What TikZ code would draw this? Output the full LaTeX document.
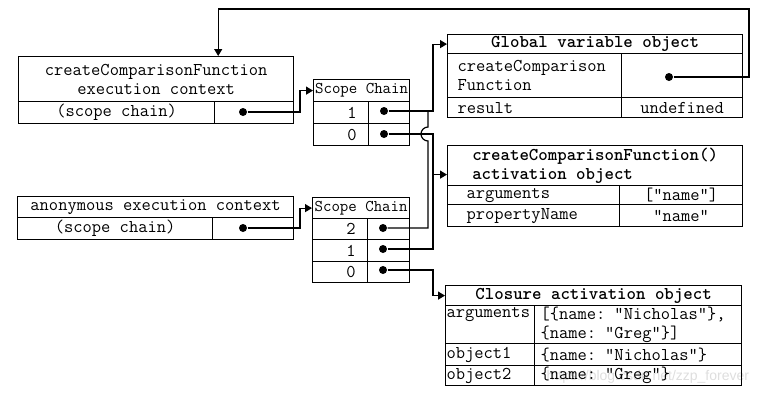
\documentclass[tikz,border=0pt]{standalone}
\usepackage{fontspec}
\newfontfamily\markfont{Liberation Sans}
\usetikzlibrary{arrows.meta}

\tikzset{
    cell/.style={draw, anchor=north west, inner sep=0pt, align=center,
        font=\ttfamily\fontsize{18}{19}\selectfont},
    head/.style={cell, font=\ttfamily\bfseries\fontsize{18}{19}\selectfont},
    chainhead/.style={cell, font=\ttfamily\fontsize{16.4}{17}\selectfont},
    num/.style={cell, minimum width=55pt, text width=31pt, inner xsep=12pt, align=right},
    dot/.style={circle, fill, inner sep=0pt, minimum size=8pt},
    ptr/.style={-{Triangle[length=7pt,width=8pt]}}
}

\begin{document}
\begin{tikzpicture}[x=1pt, y=-1pt, line width=1.2pt]

    \useasboundingbox (0,0) rectangle (760,400);

    % watermark
    \node[font=\markfont\fontsize{14}{14}\selectfont, text=black!13, anchor=east] (mark) at (753,377) {https://blog.csdn.net/zzp\_forever};

    % createComparisonFunction execution context
    \node[cell, minimum width=275pt, minimum height=45pt] (Ahead) at (18,56) {createComparisonFunction\\execution context};
    \node[cell, minimum width=196pt, minimum height=22pt] (Arow) at (18,101) {(scope chain)};
    \node[cell, minimum width=79pt, minimum height=22pt] (Aptr) at (214,101) {};
    \node[dot] (Adot) at (243,112) {};

    % first scope chain
    \node[chainhead, minimum width=96pt, minimum height=22pt] (sc1head) at (313,79) {Scope Chain};
    \node[num, minimum height=22pt] (sc1n1) at (313,101) {1};
    \node[cell, minimum width=41pt, minimum height=22pt] (sc1p1) at (368,101) {};
    \node[dot] (d11) at (384,111) {};
    \node[num, minimum height=22pt] (sc1n0) at (313,123) {0};
    \node[cell, minimum width=41pt, minimum height=22pt] (sc1p0) at (368,123) {};
    \node[dot] (d10) at (384,134) {};

    % anonymous execution context
    \node[cell, minimum width=276pt, minimum height=21pt] (Bhead) at (17,196) {anonymous execution context};
    \node[cell, minimum width=195pt, minimum height=22pt] (Brow) at (17,217) {(scope chain)};
    \node[cell, minimum width=81pt, minimum height=22pt] (Bptr) at (212,217) {};
    \node[dot] (Bdot) at (243,228) {};

    % second scope chain
    \node[chainhead, minimum width=97pt, minimum height=21pt] (sc2head) at (312,197) {Scope Chain};
    \node[num, minimum height=21pt] (sc2n2) at (312,218) {2};
    \node[cell, minimum width=42pt, minimum height=21pt] (sc2p2) at (367,218) {};
    \node[dot] (d22) at (383,228) {};
    \node[num, minimum height=22pt] (sc2n1) at (312,239) {1};
    \node[cell, minimum width=42pt, minimum height=22pt] (sc2p1) at (367,239) {};
    \node[dot] (d21) at (383,249) {};
    \node[num, minimum height=21pt] (sc2n0) at (312,261) {0};
    \node[cell, minimum width=42pt, minimum height=21pt] (sc2p0) at (367,261) {};
    \node[dot] (d20) at (383,270) {};

    % Global variable object
    \node[head, minimum width=295pt, minimum height=19pt] (gvohead) at (447,34) {Global variable object};
    \node[cell, text width=154pt, inner xsep=10pt, align=left, minimum height=44pt] (gvofn) at (447,53) {createComparison\\Function};
    \node[cell, minimum width=121pt, minimum height=44pt] (gvofnv) at (621,53) {};
    \node[dot] (gdot) at (669,77) {};
    \node[cell, text width=154pt, inner xsep=10pt, align=left, minimum height=20pt] (gvores) at (447,97) {result};
    \node[cell, minimum width=121pt, minimum height=20pt] (gvoresv) at (621,97) {undefined};

    % createComparisonFunction() activation object
    \node[head, align=left, minimum width=295pt, minimum height=40pt] (caohead) at (447,145) {createComparisonFunction()\\activation object};
    \node[cell, text width=134pt, inner xsep=19pt, align=left, minimum height=19pt] (caoargs) at (447,185) {arguments};
    \node[cell, minimum width=123pt, minimum height=19pt] (caoargsv) at (619,185) {["name"]};
    \node[cell, text width=134pt, inner xsep=19pt, align=left, minimum height=22pt] (caoprop) at (447,204) {propertyName};
    \node[cell, minimum width=123pt, minimum height=22pt] (caopropv) at (619,204) {"name"};

    % Closure activation object
    \node[head, minimum width=296pt, minimum height=20pt] (clohead) at (445,285) {Closure activation object};
    \node[cell, text width=87pt, inner xsep=1pt, align=left, minimum height=38pt] (cloargs) at (445,305) {arguments\\\strut};
    \node[cell, text width=195pt, inner xsep=6pt, align=left, minimum height=38pt] (cloargsv) at (534,305) {[\{name: "Nicholas"\},\\\{name: "Greg"\}]};
    \node[cell, text width=87pt, inner xsep=1pt, align=left, minimum height=22pt] (cloo1) at (445,343) {object1};
    \node[cell, text width=195pt, inner xsep=6pt, align=left, minimum height=22pt] (cloo1v) at (534,343) {\{name: "Nicholas"\}};
    \node[cell, text width=87pt, inner xsep=1pt, align=left, minimum height=20pt] (cloo2) at (445,365) {object2};
    \node[cell, text width=195pt, inner xsep=6pt, align=left, minimum height=20pt] (cloo2v) at (534,365) {\{name: "Greg"\}};

    % bends of the connectors
    \coordinate (busL) at (428,0);
    \coordinate (busR) at (433,0);
    \coordinate (topR) at (749,9);
    \coordinate (hop) at (busL |- d10);
    \coordinate (caoin) at ([yshift=-9pt]caohead.west);

    % Draw connections
    \draw[ptr] (gdot) -| (topR) -| ([xshift=-76pt]Ahead.north east);
    \draw[ptr] (Adot) -- ++(57,0) |- (sc1head.west);
    \draw[ptr] (Bdot) -- ++(57,0) |- (sc2head.west);
    \draw[ptr] (d11) -| (busR |- gvohead.west) -- (gvohead.west);
    \draw[ptr] (d10) -| (busR |- caoin) -- (caoin);
    \draw (d22) -| ([yshift=-7pt]hop) arc[start angle=-90, end angle=-270, radius=7pt] -- (busL |- d11);
    \draw (d21) -| (busR |- caoin);
    \draw[ptr] (d20) -| (busR |- clohead.west) -- (clohead.west);

\end{tikzpicture}
\end{document}
